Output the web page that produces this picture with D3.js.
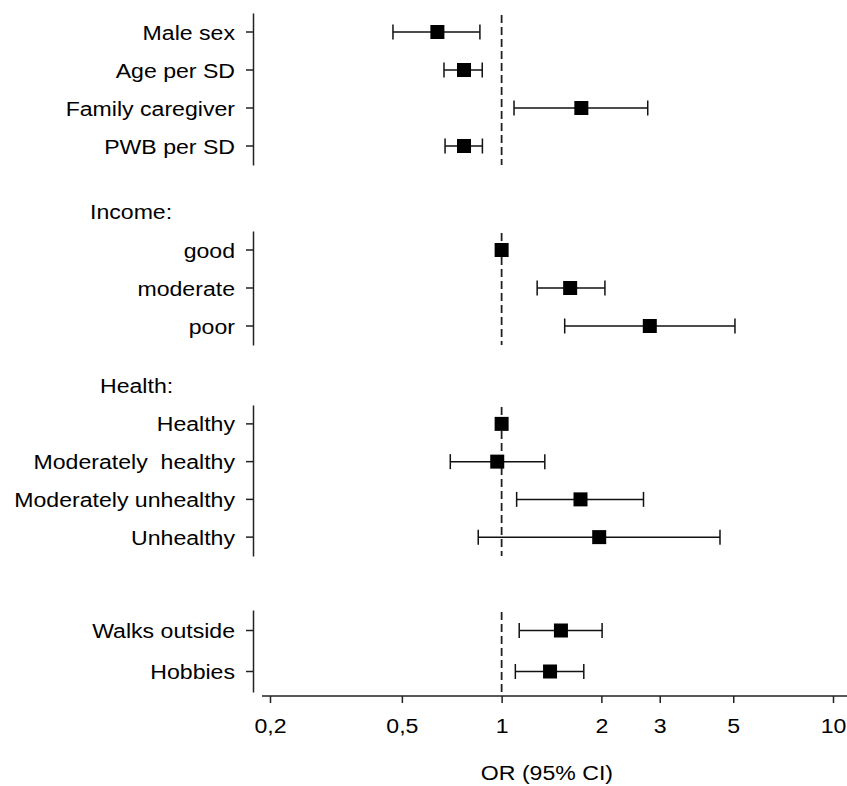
<!DOCTYPE html>
<html>
<head>
<meta charset="utf-8">
<script src="https://cdn.jsdelivr.net/npm/d3@7"></script>
<style>
  body { margin: 0; background: #fff; }
  text { font-family: "Liberation Sans", Arial, sans-serif; fill: #000; white-space: pre; }
</style>
</head>
<body>
<div id="chart"></div>
<script>
// forest plot, odds ratios with 95% CI (log scale)

const labels = ["Male sex", "Age per SD", "Family caregiver", "PWB per SD",
  "good", "moderate", "poor",
  "Healthy", "Moderately  healthy", "Moderately unhealthy", "Unhealthy",
  "Walks outside", "Hobbies"];
const orValues = [0.64, 0.77, 1.74, 0.77, 1.0, 1.61, 2.80, 1.0, 0.97, 1.73, 1.97, 1.51, 1.40];
const ciLow    = [0.47, 0.67, 1.09, 0.675, null, 1.28, 1.55, null, 0.70, 1.11, 0.85, 1.13, 1.10];
const ciHigh   = [0.86, 0.874, 2.76, 0.875, null, 2.05, 5.06, null, 1.35, 2.68, 4.56, 2.01, 1.77];
const groupOf  = [0, 0, 0, 0, 1, 1, 1, 2, 2, 2, 2, 3, 3];
const groupTitles = ["", "Income:", "Health:", ""];
const tickValues = [0.2, 0.5, 1, 2, 3, 5, 10];
const tickLabels = ["0,2", "0,5", "1", "2", "3", "5", "10"];

const width = 847, height = 786;
const axisX = 253, axisY = 696;
const fs = "21px";
const stretch = 1.1;           // the original font looks a bit wide
// vertical extent of each panel
const panels = [[13, 165], [231, 345], [405, 556], [610, 692]];
const titlePos = [null, [90, 219], [100, 393], null];

const svg = d3.select("#chart").append("svg")
  .attr("width", width)
  .attr("height", height);

const x = d3.scaleLog().domain([0.2, 10]).range([270, 833]);

const rows = labels.map((l, i) => ({
  label: l, or: orValues[i], lo: ciLow[i], hi: ciHigh[i], g: groupOf[i]
}));

panels.forEach(function(p, gi) {
  const data = rows.filter(d => d.g === gi);
  const y = d3.scaleBand().domain(data.map(d => d.label)).range(p);
  const cy = d => y(d.label) + y.bandwidth() / 2;

  // y axis segment
  const ax = svg.append("g")
    .attr("transform", "translate(" + axisX + ",0)")
    .call(d3.axisLeft(y).tickSize(7).tickSizeOuter(0).tickFormat(""));
  ax.select(".domain").attr("stroke", "#222").attr("stroke-width", 1.5);
  ax.selectAll(".tick line").attr("stroke", "#222").attr("stroke-width", 1.5);

  // row labels
  svg.selectAll(null)
    .data(data)
    .enter()
    .append("text")
    .attr("transform", d => "translate(" + (axisX - 18) + "," + cy(d) + ") scale(" + stretch + ",1)")
    .attr("dy", "0.36em")
    .attr("text-anchor", "end")
    .style("font-size", fs)
    .text(d => d.label);

  if (groupTitles[gi]) {
    svg.append("text")
      .attr("transform", "translate(" + titlePos[gi][0] + "," + titlePos[gi][1] + ") scale(" + stretch + ",1)")
      .style("font-size", fs)
      .text(groupTitles[gi]);
  }

  // reference line at OR = 1
  svg.append("line")
    .attr("x1", x(1)).attr("x2", x(1))
    .attr("y1", p[0] + 2).attr("y2", p[1])
    .attr("stroke", "#222")
    .attr("stroke-width", 1.8)
    .attr("stroke-dasharray", "8,4");

  const withCi = data.filter(d => d.lo != null);
  // CI lines
  svg.selectAll(null).data(withCi).enter().append("line")
    .attr("x1", d => x(d.lo)).attr("x2", d => x(d.hi))
    .attr("y1", cy).attr("y2", cy)
    .attr("stroke", "#111").attr("stroke-width", 1.5);
  // caps
  ["lo", "hi"].forEach(function(k) {
    svg.selectAll(null).data(withCi).enter().append("line")
      .attr("x1", d => x(d[k])).attr("x2", d => x(d[k]))
      .attr("y1", d => cy(d) - 7.5).attr("y2", d => cy(d) + 7.5)
      .attr("stroke", "#111").attr("stroke-width", 1.5);
  });
  // point estimates
  svg.selectAll(null).data(data).enter().append("rect")
    .attr("x", d => x(d.or) - 7)
    .attr("y", d => cy(d) - 7)
    .attr("width", 14).attr("height", 14)
    .attr("fill", "#000");
});

// x axis
const xa = svg.append("g")
  .attr("transform", "translate(0," + axisY + ")")
  .call(d3.axisBottom(x).tickValues(tickValues).tickSize(7).tickSizeOuter(0)
    .tickPadding(15)
    .tickFormat((d, i) => tickLabels[i]));
xa.select(".domain").remove();
xa.selectAll(".tick line").attr("stroke", "#222").attr("stroke-width", 1.5);
xa.selectAll(".tick text")
  .attr("fill", "#000")
  .style("font-family", "'Liberation Sans', Arial, sans-serif")
  .style("font-size", fs)
  .attr("transform", "scale(" + stretch + ",1)")
  .attr("x", 0);
svg.append("line")
  .attr("x1", 262).attr("x2", width)
  .attr("y1", axisY).attr("y2", axisY)
  .attr("stroke", "#222").attr("stroke-width", 1.5);

svg.append("text")
  .attr("transform", "translate(" + x(1.37) + ",780) scale(" + stretch + ",1)")
  .attr("text-anchor", "middle")
  .style("font-size", fs)
  .text("OR (95% CI)");
</script>
</body>
</html>
